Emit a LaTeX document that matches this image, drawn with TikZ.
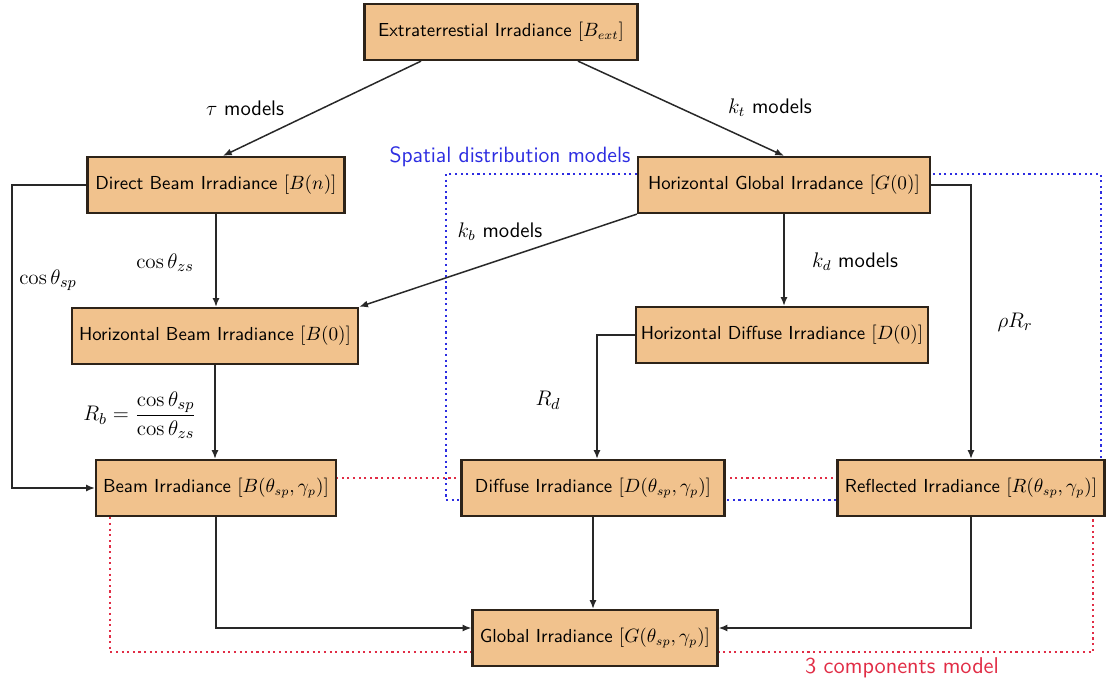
\documentclass[tikz,border=0pt]{standalone}
\usetikzlibrary{arrows.meta,calc}
\definecolor{boxfill}{RGB}{241,194,141}
\definecolor{boxline}{RGB}{45,35,25}
\definecolor{connc}{RGB}{40,40,40}
\definecolor{spblue}{RGB}{45,45,225}
\definecolor{cred}{RGB}{225,45,70}
\begin{document}
\begin{tikzpicture}[x=0.02cm,y=-0.02cm,
  irr/.style={draw=boxline, fill=boxfill, line width=1.3pt, minimum height=1.12cm, inner sep=0pt,
    font=\sffamily\fontsize{10.7}{12.5}\selectfont},
  conn/.style={draw=connc, line width=0.85pt, -{Latex[length=5pt,width=4pt]}},
  lbl/.style={font=\sffamily\large, text=black},
  mlbl/.style={font=\fontsize{12.8}{15}\selectfont, text=black},
  zone/.style={dotted, line width=1.2pt}
]
\useasboundingbox (0,0) rectangle (1108,686);
% zones
\draw[zone, spblue] (446,174) rectangle (1101,500);
\draw[zone, cred] (110,478) rectangle (1093,652);
% boxes
\node[irr, minimum width=5.46cm] (ext) at (501,32) {Extraterrestial Irradiance $[B_{ext}]$};
\node[irr, minimum width=5.14cm] (dbeam) at (216,185) {Direct Beam Irradiance $[B(n)]$};
\node[irr, minimum width=5.84cm] (hglob) at (784,185) {Horizontal Global Irradance $[G(0)]$};
\node[irr, minimum width=5.72cm] (hbeam) at (215,336) {Horizontal Beam Irradiance $[B(0)]$};
\node[irr, minimum width=5.84cm] (hdiff) at (782,335) {Horizontal Diffuse Irradiance $[D(0)]$};
\node[irr, minimum width=4.80cm] (beam) at (216,488) {Beam Irradiance $[B(\theta_{sp},\gamma_p)]$};
\node[irr, minimum width=5.26cm] (diff) at (593,488) {Diffuse Irradiance $[D(\theta_{sp},\gamma_p)]$};
\node[irr, minimum width=5.34cm] (refl) at (971,488) {Reflected Irradiance $[R(\theta_{sp},\gamma_p)]$};
\node[irr, minimum width=4.90cm] (glob) at (595,638) {Global Irradiance $[G(\theta_{sp},\gamma_p)]$};
% zone labels
\node[font=\sffamily\fontsize{12.6}{15}\selectfont, text=spblue] (splbl) at (510,157) {Spatial distribution models};
\node[font=\sffamily\fontsize{13}{15}\selectfont, text=cred] (cmlbl) at (902,668) {3 components model};
% connectors
\draw[conn] ($(ext.south)+(-80,0)$) -- ($(dbeam.north)+(7,0)$);
\draw[conn] ($(ext.south)+(77,0)$) -- (hglob.north);
\draw[conn] (dbeam.south) -- (dbeam.south |- hbeam.north);
\draw[conn] (hbeam.south) -- (hbeam.south |- beam.north);
\draw[conn] (hglob.south west) -- (hbeam.north east);
\draw[conn] (hglob.south) -- (hglob.south |- hdiff.north);
\coordinate (dl) at (12,185);
\draw[conn] (dbeam.west) -- (dl) |- (beam.west);
\draw[conn] (hglob.east) -| (refl.north);
\draw[conn] (hdiff.west) -| ($(diff.north)+(4,0)$);
\draw[conn] (beam.south) |- ($(glob.west)+(0,-10)$);
\draw[conn] (diff.south) -- (diff.south |- glob.north);
\draw[conn] (refl.south) |- ($(glob.east)+(0,-10)$);
% labels
\node[lbl] (ltau) at (245,108) {$\tau$ models};
\node[lbl] (lkt) at (770,108) {$k_t$ models};
\node[mlbl] (lczs) at (165,263) {$\cos\theta_{zs}$};
\node[mlbl] (lcsp) at (48,280) {$\cos\theta_{sp}$};
\node[lbl] (lkb) at (500,232) {$k_b$ models};
\node[lbl] (lkd) at (855,262) {$k_d$ models};
\node[mlbl] (lrr) at (1015,322) {$\rho R_r$};
\node[mlbl] (lrd) at (548,400) {$R_d$};
\node[mlbl] (lrb) at (140,415) {$R_b=\displaystyle\frac{\cos\theta_{sp}}{\cos\theta_{zs}}$};
\end{tikzpicture}
\end{document}
